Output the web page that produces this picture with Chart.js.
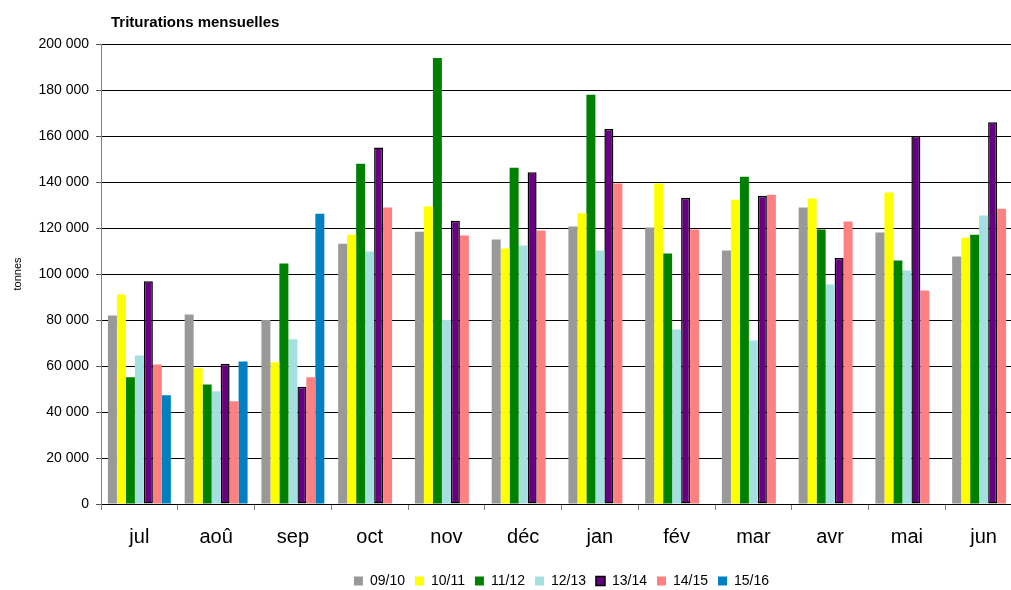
<!DOCTYPE html>
<html>
<head>
<meta charset="utf-8">
<script src="https://cdn.jsdelivr.net/npm/chart.js@4/dist/chart.umd.min.js"></script>
<style>
    body { margin: 0; background: #fff; }
    #wrap { width: 1011px; height: 590px; overflow: hidden; position: relative; }
    #box { width: 1022px; height: 598px; }
</style>
</head>
<body>
<div id="wrap">
    <div id="box"><canvas id="trituChart" width="1022" height="598"></canvas></div>
</div>

<script>
// ==========================
// Data
// ==========================

const months = ["jul", "aoû", "sep", "oct", "nov", "déc", "jan", "fév", "mar", "avr", "mai", "jun"];

const s0910 = [82000, 82400, 80000, 113200, 118400, 115000, 120600, 120200, 110200, 128900, 118000, 107600];
const s1011 = [91100, 59000, 61600, 117100, 129300, 111100, 126400, 139300, 132300, 132800, 135400, 115800];
const s1112 = [55100, 52000, 104600, 147900, 193900, 146200, 177900, 108900, 142300, 119300, 105900, 117100];
const s1213 = [64600, 49000, 71600, 109800, 80000, 112400, 110200, 75900, 71100, 95400, 101500, 125400];
const s1314 = [96900, 61000, 51000, 155000, 123100, 144200, 163000, 133100, 134000, 107000, 160000, 166000];
const s1415 = [60700, 44700, 55100, 128900, 116700, 118900, 139300, 119300, 134500, 122800, 92800, 128400];
const s1516 = [47300, 62000, 126200, null, null, null, null, null, null, null, null, null];

const yTicks = [0, 20000, 40000, 60000, 80000, 100000, 120000, 140000, 160000, 180000, 200000];

const FONT = "'Liberation Sans', Arial, sans-serif";


// ==========================
// Helpers
// ==========================

function fmt(v) {
    return String(v).replace(/\B(?=(\d{3})+(?!\d))/g, " ");
}

function serie(label, data, color, border) {
    return {
        label: label,
        data: data,
        backgroundColor: color,
        borderColor: border ? "#000000" : color,
        borderWidth: border ? 1.5 : 0,
        borderSkipped: border ? false : "start",
        barPercentage: 1,
        categoryPercentage: 0.82
    };
}

const titlePlugin = {
    id: "titlePlugin",
    afterDraw(chart) {
        const c = chart.ctx;
        c.save();
        c.font = "bold 15px " + FONT;
        c.fillStyle = "#000";
        c.textBaseline = "middle";
        c.fillText("Triturations mensuelles", 111, 23);
        c.restore();
    }
};


// ==========================
// Chart
// ==========================

const ctx = document.getElementById("trituChart");

const trituChart = new Chart(ctx, {

    type: "bar",

    data: {
        labels: months,
        datasets: [
            serie("09/10", s0910, "#999999", false),
            serie("10/11", s1011, "#FFFF00", false),
            serie("11/12", s1112, "#008000", false),
            serie("12/13", s1213, "#A4E0E0", false),
            serie("13/14", s1314, "#660080", true),
            serie("14/15", s1415, "#FF8080", false),
            serie("15/16", s1516, "#0080C0", false)
        ]
    },

    plugins: [titlePlugin],

    options: {
        responsive: false,
        animation: false,
        devicePixelRatio: 1,
        layout: {
            padding: { top: 44, right: 0, bottom: 0, left: 0 }
        },
        plugins: {
            title: { display: false },
            tooltip: { enabled: false },
            legend: {
                position: "bottom",
                fullSize: false,
                labels: {
                    boxWidth: 9,
                    boxHeight: 9,
                    padding: 10,
                    color: "#000",
                    font: { family: FONT, size: 14 }
                }
            }
        },
        scales: {
            x: {
                offset: true,
                grid: {
                    display: true,
                    drawOnChartArea: false,
                    tickLength: 6,
                    color: "#808080"
                },
                border: { color: "#000", width: 1 },
                ticks: {
                    color: "#000",
                    padding: 15,
                    font: { family: FONT, size: 20 }
                },
                afterFit(scale) { scale.height = 60; }
            },
            y: {
                min: 0,
                max: 200000,
                afterBuildTicks(scale) {
                    scale.ticks = yTicks.map(v => ({ value: v }));
                },
                grid: {
                    color: "#000",
                    lineWidth: 1,
                    tickLength: 5,
                    tickColor: "#555"
                },
                border: { color: "#808080", width: 1 },
                ticks: {
                    color: "#000",
                    padding: 7,
                    font: { family: FONT, size: 14 },
                    callback: v => fmt(v)
                },
                title: {
                    display: true,
                    text: "tonnes",
                    color: "#000",
                    padding: { top: 11, bottom: 0 },
                    font: { family: FONT, size: 11 }
                },
                afterFit(scale) { scale.width = 101; }
            }
        }
    }

});
</script>
</body>
</html>
